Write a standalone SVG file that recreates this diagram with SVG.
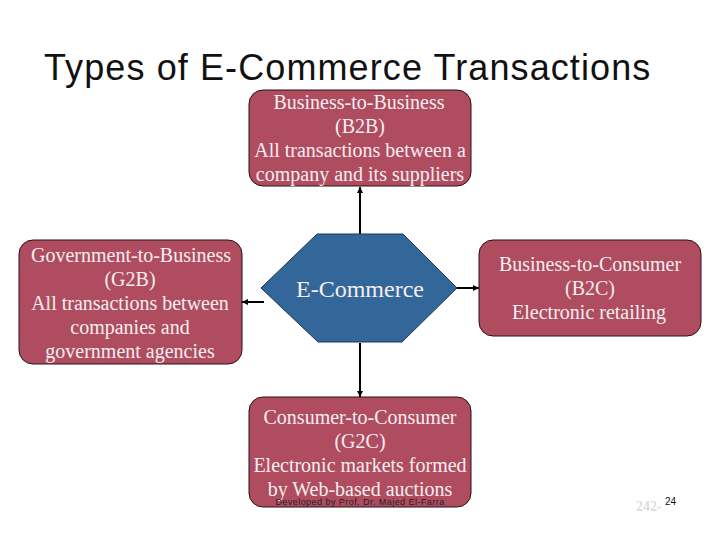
<svg xmlns="http://www.w3.org/2000/svg" width="720" height="540" viewBox="0 0 720 540">
<defs>
<marker id="a" markerUnits="userSpaceOnUse" markerWidth="8" markerHeight="8" refX="6" refY="4" orient="auto"><path d="M0,1 L6,4 L0,7 Z" fill="#000"/></marker>
</defs>
<style>
.b{fill:#b04c60;stroke:#2a1018;stroke-width:1}
.t{font-family:"Liberation Serif",serif;font-size:20px;fill:#f4eef0;text-anchor:middle}
.c{stroke:#000;stroke-width:2;fill:none;marker-end:url(#a)}
</style>
<rect width="720" height="540" fill="#fff"/>
<text x="44" y="80" font-family="'Liberation Sans',sans-serif" font-size="36" letter-spacing="1.1" fill="#111">Types of E-Commerce Transactions</text>
<g id="connectors">
<path class="c" d="M360,234 V187"/>
<path class="c" d="M264,302 H242"/>
<path class="c" d="M457,288 H479"/>
<path class="c" d="M360,343 V397"/>
</g>
<g id="b2b"><rect class="b" x="249" y="90" width="222" height="96" rx="14"/>
<text class="t" x="359" y="109">Business-to-Business</text><text class="t" x="360" y="133">(B2B)</text><text class="t" x="360" y="157">All transactions between a</text><text class="t" x="360" y="181">company and its suppliers</text></g>
<g id="g2b"><rect class="b" x="19" y="240" width="223" height="124" rx="14"/>
<text class="t" x="131" y="262">Government-to-Business</text><text class="t" x="130" y="286">(G2B)</text><text class="t" x="130" y="310">All transactions between</text><text class="t" x="130" y="334">companies and</text><text class="t" x="130" y="358">government agencies</text></g>
<g id="ecommerce"><polygon points="317,234 403,234 457,288 402,342 318,342 261,288" fill="#336699" stroke="#1c3a58" stroke-width="1"/>
<text class="t" x="360" y="297" style="font-size:24px">E-Commerce</text></g>
<g id="b2c"><rect class="b" x="479" y="240" width="222" height="96" rx="14"/>
<text class="t" x="590" y="271">Business-to-Consumer</text><text class="t" x="590" y="295">(B2C)</text><text class="t" x="589" y="319">Electronic retailing</text></g>
<g id="c2c"><rect class="b" x="249" y="397" width="222" height="110" rx="14"/>
<text class="t" x="360" y="424">Consumer-to-Consumer</text><text class="t" x="360" y="448">(G2C)</text><text class="t" x="360" y="472">Electronic markets formed</text><text class="t" x="360" y="496">by Web-based auctions</text></g>
<text x="360" y="505" font-family="'Liberation Sans',sans-serif" font-size="9" letter-spacing="0.45" fill="#222" text-anchor="middle">Developed by Prof. Dr. Majed El-Farra</text>
<text x="636" y="511" font-family="'Liberation Serif',serif" font-size="14" font-weight="bold" fill="#dcdcdc">242-</text>
<text x="665" y="505" font-family="'Liberation Sans',sans-serif" font-size="10" fill="#111">24</text>
</svg>
